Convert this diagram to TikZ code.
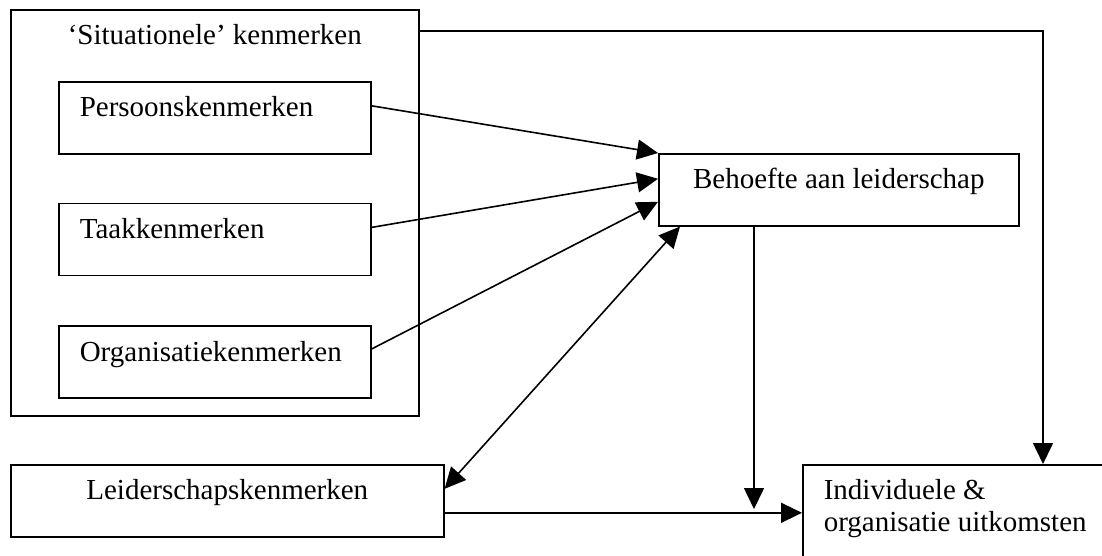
\documentclass[tikz,border=0pt]{standalone}
\usepackage{fontspec}
\setmainfont{Liberation Serif}
\usetikzlibrary{arrows.meta, positioning}

\begin{document}
\begin{tikzpicture}[x=1pt, y=-1pt, node distance=48pt,
  box/.style={draw, line width=1.6pt, rectangle, inner sep=0pt, text height=35pt, font=\fontsize{29}{32}\selectfont},
  inbox/.style={box, text width=270pt, inner xsep=21pt, align=flush left, text depth=37pt},
  arr/.style={line width=1.6pt, -{Triangle[length=21pt, width=20pt]}},
  twoway/.style={line width=1.6pt, {Triangle[length=21pt, width=20pt]}-{Triangle[length=21pt, width=20pt]}}]
\useasboundingbox (0,0) rectangle (1102,556);
\clip (0,0) rectangle (1102,556);

% Situational characteristics and their parts
\node[box, minimum width=408pt, text depth=371pt, anchor=north west] (sit) at (10,9) {`Situationele' kenmerken};
\node[inbox, below right=72pt and 48pt of sit.north west] (pers) {Persoonskenmerken};
\node[inbox, below=48pt of pers] (taak) {Taakkenmerken};
\node[inbox, below=49pt of taak] (org)  {Organisatiekenmerken};

% Need, leadership and outcomes
\node[box, minimum width=360pt, text depth=37pt, anchor=north west] (need) at (658,153) {Behoefte aan leiderschap};
\node[box, minimum width=433pt, text depth=37pt, anchor=north west] (lead) at (10,464) {Leiderschapskenmerken};
\node[box, text width=300pt, inner xsep=21pt, align=flush left, text depth=80pt, anchor=north west] (out) at (802,464) {Individuele \&\\organisatie uitkomsten};
\coordinate (meet) at (754,509);

% Arrows into the need for leadership
\draw[arr] ([yshift=12pt]pers.east) -- (need.north west);
\draw[arr] ([yshift=12pt]taak.east) -- ([yshift=11pt]need.west);
\draw[arr] ([yshift=13pt]org.east)  -- ([yshift=-12pt]need.west);
\draw[twoway] ([yshift=12pt]lead.east) -- ([xshift=22pt]need.south west);

% Arrows towards the outcomes
\draw[arr] ([xshift=96pt]need.south west) -- (meet);
\draw[arr] ([yshift=-12pt]lead.east) -- ([yshift=-12pt]lead.east -| out.west);
\draw[arr] ([yshift=-22pt]sit.north east) -| ([xshift=241pt]out.north west);
\end{tikzpicture}
\end{document}
